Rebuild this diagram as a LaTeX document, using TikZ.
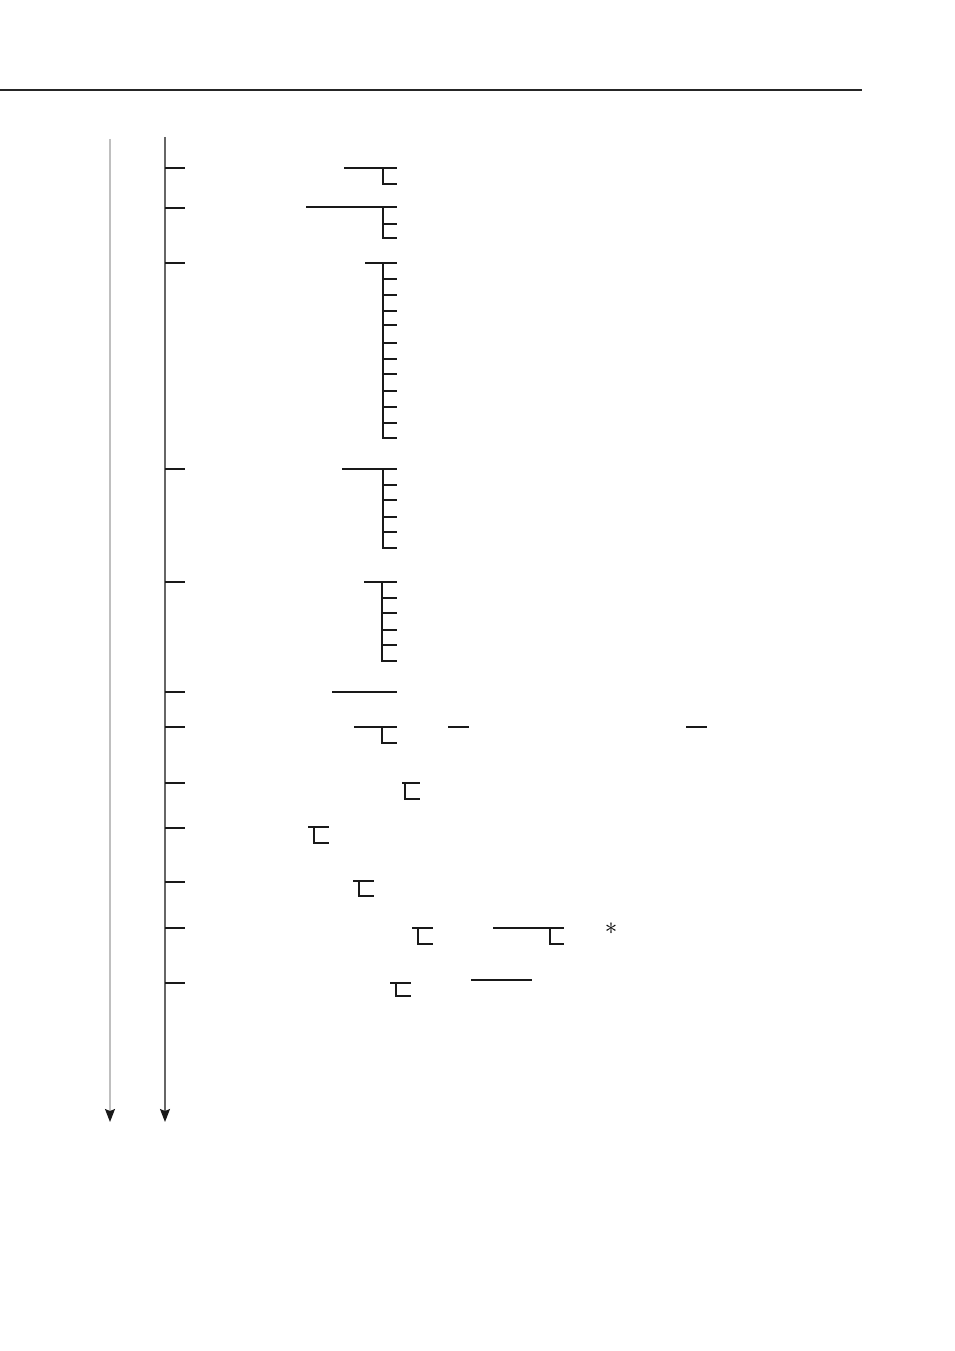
\documentclass[tikz,border=0pt]{standalone}
\usetikzlibrary{arrows.meta,positioning}
\tikzset{
  rule/.style     = {line width=2.6pt, draw=black!85},
  spine/.style    = {line width=1.3pt, -{Stealth[length=13pt,width=10pt,inset=2pt,black!90]}},
  stub/.style     = {line width=1.3pt, draw=black!90},
  starmark/.style = {inner sep=0pt}
}
\begin{document}
\begin{tikzpicture}[x=1pt,y=-1pt]
\useasboundingbox (0,0) rectangle (954,1351);
\draw[rule] (0,90) -- (862,90);
\coordinate (back top) at (110,139);
\coordinate (back end) at (110,1122);
\coordinate (main top) at (165,137);
\coordinate (main end) at (165,1122);
\draw[spine, draw=black!25] (back top) -- (back end);
\draw[spine, draw=black!60] (main top) -- (main end);
% entries off the main line
\foreach \y/\name in {168/a,208/b,263/c,469/d,582/e,692/f,727/g,783/h,828/i,882/j,928/k,983/l}{
  \coordinate (\name) at (165,\y);
  \draw[stub] (\name) -- ++(20,0);
}
% submenu a
\draw[stub] (344,168) -- (397,168);
\draw[stub] (383,168) |- (397,184);
% submenu b
\draw[stub] (306,207) -- (397,207);
\draw[stub] (383,207) |- (397,238);
\draw[stub] (383,224) -- (397,224);
% submenu c
\draw[stub] (365,263) -- (397,263);
\draw[stub] (383,263) |- (397,438);
\foreach \y in {279,295,311,325,343,359,374,391,407,423}
  \draw[stub] (383,\y) -- (397,\y);
% submenu d
\draw[stub] (342,469) -- (397,469);
\draw[stub] (383,469) |- (397,548);
\foreach \y in {485,500,517,532}
  \draw[stub] (383,\y) -- (397,\y);
% submenu e
\draw[stub] (364,582) -- (397,582);
\draw[stub] (382,582) |- (397,661);
\foreach \y in {598,613,630,645}
  \draw[stub] (382,\y) -- (397,\y);
% entry f
\draw[stub] (332,692) -- (397,692);
% entry g
\draw[stub] (354,727) -- (397,727);
\draw[stub] (382,727) |- (397,743);
\draw[stub] (448,727) -- (469,727);
\draw[stub] (686,727) -- (707,727);
% entry h
\draw[stub] (402,783) -- (420,783);
\draw[stub] (405,783) |- (420,799);
% entry i
\draw[stub] (308,827) -- (329,827);
\draw[stub] (314,827) |- (329,843);
% entry j
\draw[stub] (353,881) -- (374,881);
\draw[stub] (359,881) |- (374,896);
% entry k
\draw[stub] (412,928) -- (433,928);
\draw[stub] (418,928) |- (433,944);
\draw[stub] (493,928) -- (564,928);
\draw[stub] (550,928) |- (564,944);
\node[starmark] (star) at (611,929) {\scalebox{2.5}{$\ast$}};
% entry l
\draw[stub] (390,983) -- (411,983);
\draw[stub] (396,983) |- (411,996);
\draw[stub] (471,980) -- (532,980);
\end{tikzpicture}
\end{document}
